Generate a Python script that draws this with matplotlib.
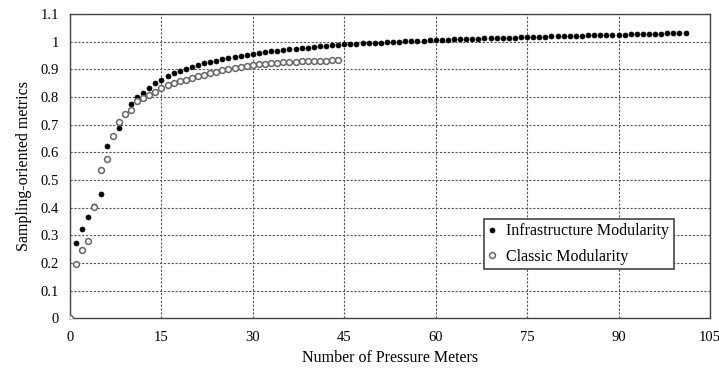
"""
Sampling-oriented metrics vs number of pressure meters:
infrastructure modularity against classic modularity.
"""

import matplotlib
matplotlib.use("Agg")
import matplotlib.pyplot as plt

# infrastructure modularity, meters 1..101
infra_x = list(range(1, 102))
infra_y = [
    0.274, 0.323, 0.367, 0.405, 0.451, 0.624, 0.659, 0.689, 0.740, 0.776,
    0.801, 0.815, 0.834, 0.850, 0.863, 0.877, 0.888, 0.895, 0.902, 0.908,
    0.914, 0.922, 0.928, 0.932, 0.937, 0.941, 0.946, 0.949, 0.953, 0.956,
    0.960, 0.962, 0.965, 0.967, 0.970, 0.972, 0.975, 0.977, 0.979, 0.982,
    0.984, 0.985, 0.988, 0.989, 0.990, 0.991, 0.992, 0.994, 0.995, 0.996,
    0.997, 0.998, 0.999, 1.000, 1.001, 1.002, 1.003, 1.004, 1.005, 1.006,
    1.007, 1.007, 1.008, 1.009, 1.010, 1.010, 1.011, 1.012, 1.012, 1.013,
    1.014, 1.014, 1.015, 1.016, 1.017, 1.017, 1.018, 1.018, 1.019, 1.020,
    1.020, 1.021, 1.022, 1.022, 1.023, 1.023, 1.024, 1.025, 1.025, 1.026,
    1.026, 1.027, 1.027, 1.028, 1.028, 1.029, 1.029, 1.030, 1.030, 1.030,
    1.031,
]

# classic modularity, meters 0..44
classic_x = list(range(0, 45))
classic_y = [
    0.000, 0.198, 0.248, 0.281, 0.403, 0.538, 0.576, 0.660, 0.709, 0.737,
    0.754, 0.784, 0.797, 0.809, 0.820, 0.834, 0.842, 0.849, 0.857, 0.863,
    0.869, 0.875, 0.881, 0.887, 0.891, 0.896, 0.901, 0.906, 0.909, 0.913,
    0.916, 0.919, 0.921, 0.923, 0.924, 0.926, 0.927, 0.928, 0.929, 0.930,
    0.931, 0.932, 0.932, 0.933, 0.933,
]

X_TICKS = [0, 15, 30, 45, 60, 75, 90, 105]
Y_TICKS = [0, 0.1, 0.2, 0.3, 0.4, 0.5, 0.6, 0.7, 0.8, 0.9, 1, 1.1]
Y_LABELS = ["0", "0.1", "0.2", "0.3", "0.4", "0.5", "0.6", "0.7", "0.8", "0.9", "1", "1.1"]

plt.rcParams["font.family"] = ["Liberation Serif", "DejaVu Serif"]

fig = plt.figure(figsize=(7.19, 3.69), dpi=100)
ax = fig.add_axes([0.0974, 0.137, 0.89, 0.825])

ax.plot(infra_x, infra_y, linestyle="none", marker="o", markersize=3.6,
        markerfacecolor="black", markeredgecolor="black", markeredgewidth=0.5,
        label="Infrastructure Modularity", zorder=3)
ax.plot(classic_x, classic_y, linestyle="none", marker="o", markersize=4.2,
        markerfacecolor="white", markeredgecolor="#666666", markeredgewidth=1.1,
        label="Classic Modularity", zorder=4)

ax.set_xlim(0, 105)
ax.set_ylim(0, 1.1)
ax.set_xticks(X_TICKS)
ax.set_yticks(Y_TICKS)
ax.set_yticklabels(Y_LABELS)
ax.tick_params(length=0, labelsize=10.5, colors="black")
ax.tick_params(axis="x", pad=9)
ax.tick_params(axis="y", pad=8)

ax.grid(True, color="#555555", linestyle=(0, (2, 1.5)), linewidth=0.8)
ax.set_axisbelow(True)
for s in ax.spines.values():
    s.set_color("#444444")
    s.set_linewidth(1.0)

ax.set_xlabel("Number of Pressure Meters", fontsize=11.5, labelpad=4)
ax.set_ylabel("Sampling-oriented metrics", fontsize=11.5, labelpad=6)

leg = ax.legend(loc="lower left", bbox_to_anchor=(0.647, 0.163, 0.297, 0.164),
                mode="expand", borderaxespad=0, fancybox=False, fontsize=11.5,
                handlelength=0.5, handletextpad=0.6, labelspacing=0.6,
                borderpad=0.25, markerscale=1.0)
leg.get_frame().set_edgecolor("#444444")
leg.get_frame().set_linewidth(1.2)
leg.get_frame().set_alpha(1)

fig.savefig("out.png", dpi=100)
